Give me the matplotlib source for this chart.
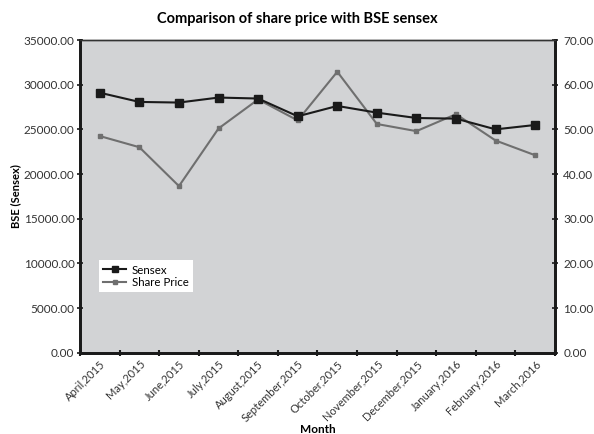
import matplotlib
matplotlib.use("Agg")
import matplotlib.pyplot as plt
import numpy as np

months = ["April,2015", "May,2015", "June,2015", "July,2015", "August,2015",
          "September,2015", "October,2015", "November,2015", "December,2015",
          "January,2016", "February,2016", "March,2016"]
sensex = [29100, 28070, 28000, 28560, 28450, 26460, 27620, 26870, 26270, 26200, 25000, 25490]
share_price = [48.5, 46.0, 37.3, 50.2, 56.7, 52.0, 62.9, 51.2, 49.6, 53.4, 47.5, 44.2]
left_ticks = [0, 5000, 10000, 15000, 20000, 25000, 30000, 35000]
right_ticks = [0, 10, 20, 30, 40, 50, 60, 70]

plt.rcParams['font.family'] = ['Lato', 'DejaVu Sans']

fig = plt.figure(figsize=(5.94, 4.34), dpi=100)
rect = [0.1347, 0.1873, 0.7996, 0.7205]
fig.patches.append(plt.Rectangle(rect[:2], rect[2], rect[3], transform=fig.transFigure,
                                 facecolor='#d2d3d5', zorder=-1))
ax2 = fig.add_axes(rect)
ax = fig.add_axes(rect, sharex=ax2)
ax.patch.set_visible(False)
ax2.patch.set_visible(False)
x = np.arange(len(months))

l2, = ax2.plot(x, share_price, color='#6f6f6f', lw=1.5, marker='s', ms=3, mfc='#6f6f6f', mec='#6f6f6f', label='Share Price')
l1, = ax.plot(x, sensex, color='#1a1a1a', lw=1.5, marker='s', ms=6, mfc='#1a1a1a', mec='#1a1a1a', label='Sensex')

ax2.yaxis.tick_right()
ax2.set_ylim(0, 70)
ax2.set_yticks(right_ticks)
ax2.set_yticklabels([f"{v:.2f}" for v in right_ticks], fontsize=8.5, color='#333333')
ax2.tick_params(axis='y', length=4, width=1.2, direction='inout', color='#1a1a1a', pad=4)

ax.set_xlim(-0.5, len(months) - 0.5)
ax.set_ylim(0, 35000)
ax.set_yticks(left_ticks)
ax.set_yticklabels([f"{v:.2f}" for v in left_ticks], fontsize=8.5, color='#333333')
ax.set_xticks(np.arange(-0.5, len(months) + 0.5, 1))
ax.set_xticklabels([])
ax.set_xticks(x, minor=True)
ax.set_xticklabels(months, minor=True, rotation=45, ha='right', rotation_mode='anchor', fontsize=8, color='#333333')
ax.tick_params(axis='x', which='minor', length=0, pad=4)
ax.tick_params(axis='x', which='major', length=4, width=1.5, direction='inout', color='#1a1a1a')
ax.tick_params(axis='y', length=4, width=1.2, direction='inout', color='#1a1a1a', pad=2)
ax2.tick_params(axis='x', which='both', length=0, labelbottom=False)

for a in (ax, ax2):
    for s in ['left', 'right', 'bottom']:
        a.spines[s].set_linewidth(2)
        a.spines[s].set_color('#1a1a1a')
    a.spines['top'].set_linewidth(1)
    a.spines['top'].set_color('#333333')

ax.set_ylabel('BSE (Sensex)', fontsize=8, fontweight='bold', labelpad=2)
ax.set_xlabel('Month', fontsize=8.5, fontweight='bold', labelpad=0)
fig.suptitle('Comparison of share price with BSE sensex', fontsize=10.5, fontweight='bold', y=0.972)

leg = ax.legend([l1, l2], ['Sensex', 'Share Price'], loc='upper left', bbox_to_anchor=(0.04, 0.295),
                fontsize=8.3, frameon=True, fancybox=False, edgecolor='white', facecolor='white',
                framealpha=1, handlelength=2.0, borderpad=0.35, labelspacing=0.15, handletextpad=0.5,
                borderaxespad=0, markerscale=0.8)
leg.get_frame().set_linewidth(0)

fig.savefig('out.png', dpi=100)
